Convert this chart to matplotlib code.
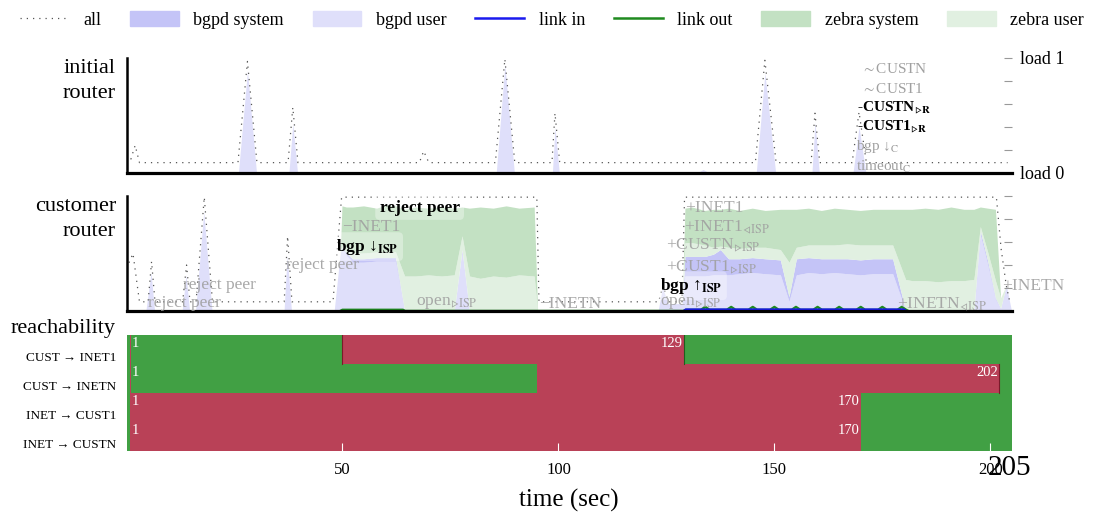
import matplotlib
matplotlib.use("Agg")
import matplotlib.pyplot as plt
from matplotlib.patches import Patch
from matplotlib.lines import Line2D

plt.rcParams.update({
    "font.family": ["Liberation Serif", "DejaVu Serif"],
    "mathtext.fontset": "stix",
    "font.size": 11,
})

C_ALL  = "#555555"
C_BSYS = "#c4c4f7"
C_BUSR = "#dfdffa"
C_LIN  = "#1a1aee"
C_LOUT = "#1f8a1f"
C_ZSYS = "#c3e1c3"
C_ZUSR = "#e1f0e1"
C_OK   = "#41a044"
C_BAD  = "#b94157"
C_NOTE = "#a0a0a0"
T_END  = 205

# ── initial router (load, 0..1) ───────────────────────────────
top_all_t = [0, 1, 2, 3, 25.8, 28, 30.2, 37.4, 38.5, 39.7, 67.8, 68.8, 70,
             85.4, 87.6, 89.9, 98.5, 99.2, 100.3, 145.6, 147.8, 150.4,
             158.5, 159.4, 160.5, 168, 169.6, 171.3, 204]
top_all = [0.16, 0.12, 0.24, 0.09, 0.09, 0.97, 0.09, 0.09, 0.57, 0.09, 0.09, 0.19, 0.09,
           0.09, 0.99, 0.09, 0.09, 0.52, 0.09, 0.09, 0.98, 0.09,
           0.09, 0.52, 0.09, 0.09, 0.53, 0.09, 0.09]
top_user_t = [0, 25.9, 28, 30.1, 37.6, 38.5, 39.6, 85.6, 87.6, 89.8, 98.6, 99.2, 100.2,
              132, 133.5, 135, 145.8, 147.8, 150.3, 158.7, 159.4, 160.4,
              168.2, 169.6, 171.2, 205]
top_user = [0, 0, 0.89, 0, 0, 0.43, 0, 0, 0.94, 0, 0, 0.40, 0,
            0, 0.03, 0, 0, 0.87, 0, 0, 0.44, 0,
            0, 0.40, 0, 0]

# ── customer router (stacked load) ────────────────────────────
mid_t = [0, 4.6, 5.8, 6.6, 13.0, 13.9, 14.7, 16.1, 18.0, 19.9, 36.6, 37.3, 38.3, 48.2,
         49.6, 50.0, 51.0, 52.5, 55.0, 58.0, 60.5, 62.4, 64.5, 67.0, 70.0, 73.0, 76.0,
         77.8, 79.5, 82.0, 85.0, 88.0, 91.0, 94.5, 95.3,
         123.2, 124.2, 125.5, 128.8,
         129.4, 131.0, 134.0, 136.0, 137.6, 139.5, 142.0, 145.0, 148.0, 151.5, 153.5,
         155.2, 158.0, 161.0, 164.0, 167.0, 170.0, 173.0, 177.5, 180.5, 182.0, 185.0,
         188.0, 191.0, 194.0, 196.3, 197.8, 199.5, 201.3, 202.5, 203.8, 205.0]
mid_bgpd_user = [0, 0, .33, 0, 0, .31, 0, 0, .86, 0, 0, .48, 0, 0,
                 .50, .55, .48, .42, .42, .43, .43, .43, 0, 0, 0, 0, 0,
                 .53, 0, 0, 0, 0, 0, 0, 0,
                 0, .20, .06, .06,
                 .30, .30, .30, .31, .31, .31, .32, .33, .32, .31, .08,
                 .31, .33, .32, .33, .32, .31, .32, .32, 0, 0, 0,
                 0, 0, 0, 0, .66, .40, .10, .02, .22, 0]
mid_bgpd_sys = [0, 0, 0, 0, 0, 0, 0, 0, 0, 0, 0, 0, 0, 0,
                0, 0, .02, .03, .03, .03, .03, .03, 0, 0, 0, 0, 0,
                0, 0, 0, 0, 0, 0, 0, 0,
                0, 0, 0, 0,
                .17, .17, .17, .18, .22, .14, .13, .13, .13, .13, .04,
                .14, .13, .13, .12, .13, .13, .13, .13, 0, 0, 0,
                0, 0, 0, 0, .03, .03, .01, 0, 0, 0]
mid_zebra_user = [0, 0, 0, 0, 0, 0, 0, 0, 0, 0, 0, 0, 0, 0,
                  0, .02, .04, .05, .05, .05, .05, .05, .30, .30, .31, .30, .31,
                  .12, .30, .28, .30, .29, .31, .30, 0,
                  0, 0, 0, 0,
                  .12, .12, .10, .06, .03, .10, .09, .09, .10, .09, .30,
                  .10, .11, .12, .12, .13, .13, .12, .12, .27, .26, .26,
                  .25, .26, .26, .27, .04, .08, .15, .09, 0, 0]
mid_zebra_sys = [0, 0, 0, 0, 0, 0, 0, 0, 0, 0, 0, 0, 0, 0,
                 0, .34, .36, .40, .41, .38, .41, .40, .58, .60, .58, .60, .58,
                 .25, .59, .62, .59, .62, .58, .60, 0,
                 0, 0, 0, 0,
                 .30, .31, .30, .33, .32, .34, .33, .34, .32, .35, .46,
                 .33, .32, .30, .32, .30, .30, .31, .31, .61, .62, .63,
                 .63, .64, .62, .61, .17, .38, .62, 0, 0, 0]
mid_all_t = [0, 1.5, 3, 5.0, 5.8, 6.6, 13.0, 13.9, 14.7, 16.1, 18.0, 19.9, 36.5, 37.3,
             38.3, 47.8, 49.8, 95.0, 95.5, 123.2, 124.2, 125.5, 128.6, 129.2, 201.4,
             202.5, 203.7, 204.5]
mid_all = [0.37, 0.5, 0.08, 0.08, 0.43, 0.08, 0.08, 0.40, 0.08, 0.08, 0.99, 0.08, 0.08, 0.65,
           0.08, 0.08, 0.99, 0.99, 0.08, 0.08, 0.22, 0.08, 0.08, 0.99, 0.99,
           0.54, 0.22, 0.08]
link_in_t = [129.0, 129.5, 180.0, 180.5]
link_in = [0, 0.012, 0.012, 0]
link_out_t = [49.5, 50, 64, 64.5, 129, 129.5,
              133, 134, 135, 139, 140, 141, 144, 145, 146, 149, 150, 151, 154, 155, 156,
              159, 160, 161, 164, 165, 166, 169, 170, 171, 174, 175, 176, 178.5, 179.5, 180.5,
              181]
link_out = [0, .01, .01, 0, 0, .01,
            .01, .035, .01, .01, .035, .01, .01, .035, .01, .01, .035, .01, .01, .035, .01,
            .01, .035, .01, .01, .035, .01, .01, .035, .01, .01, .035, .01, .01, .035, .01,
            0]

# ── reachability: (start, end, ok) segments per flow ─────────
flows = ["CUST → INET1", "CUST → INETN", "INET → CUST1", "INET → CUSTN"]
reach_segments = [
    [(0, 0.8, True), (0.8, 1.1, False), (1.1, 50, True), (50, 129, False), (129, 205, True)],
    [(0, 0.8, True), (0.8, 1.1, False), (1.1, 95, True), (95, 202, False), (202, 205, True)],
    [(0, 0.8, True), (0.8, 170, False), (170, 205, True)],
    [(0, 0.8, True), (0.8, 170, False), (170, 205, True)],
]
reach_marks = [[(1, "1"), (129, "129")], [(1, "1"), (202, "202")],
               [(1, "1"), (170, "170")], [(1, "1"), (170, "170")]]


fig = plt.figure(figsize=(11.04, 5.15), dpi=100)
L, W = 0.1146, 0.802
ax1 = fig.add_axes([L, 0.6641, W, 0.2233])
ax2 = fig.add_axes([L, 0.3961, W, 0.2233])
ax3 = fig.add_axes([L, 0.1243, W, 0.2252])


def style_load(ax, labels):
    for s in ("top", "right"):
        ax.spines[s].set_visible(False)
    ax.spines["left"].set_linewidth(1.8)
    ax.spines["bottom"].set_linewidth(2.3)
    ax.set_xlim(0, T_END)
    ax.set_ylim(0, 1)
    ax.set_xticks([])
    ax.yaxis.tick_right()
    ax.set_yticks([0, .2, .4, .6, .8, 1])
    ax.set_yticklabels(labels)
    ax.tick_params(axis="y", direction="in", length=6, color="#999999",
                   labelsize=13, pad=6)


# ── (a) initial router ────────────────────────────────────────
ax1.fill_between(top_user_t, top_user, color=C_BUSR, lw=0)
ax1.plot(top_all_t, top_all, color=C_ALL, lw=0.9, ls=(0, (1, 4)))
style_load(ax1, ["load 0", "", "", "", "", "load 1"])
ax1.text(-0.012, 0.99, "initial\nrouter", transform=ax1.transAxes,
         ha="right", va="top", fontsize=16, linespacing=1.4)

top_notes = [
    (170, 0.90, r"$\sim$CUSTN", False),
    (170, 0.73, r"$\sim$CUST1", False),
    (169.2, 0.57, r"-CUSTN$_{▹\mathbf{R}}$", True),
    (169.2, 0.40, r"-CUST1$_{▹\mathbf{R}}$", True),
    (168.8, 0.23, r"bgp ↓$_{\mathrm{C}}$", False),
    (168.8, 0.05, r"timeout$_{\mathrm{C}}$", False),
]
for x, y, s, bold in top_notes:
    ax1.text(x, y, s, fontsize=11, va="center", ha="left",
             color="black" if bold else C_NOTE,
             fontweight="bold" if bold else "normal", zorder=5)

# ── (b) customer router ───────────────────────────────────────
ax2.stackplot(mid_t, mid_bgpd_user, mid_bgpd_sys, mid_zebra_user, mid_zebra_sys,
              colors=[C_BUSR, C_BSYS, C_ZUSR, C_ZSYS], lw=0)
ax2.plot(mid_all_t, mid_all, color=C_ALL, lw=0.9, ls=(0, (1, 4)))
ax2.plot(link_out_t, link_out, color=C_LOUT, lw=1.8, clip_on=False, zorder=2.2)
ax2.plot(link_in_t, link_in, color=C_LIN, lw=1.8, clip_on=False, zorder=2.2)
style_load(ax2, ["", "", "", "", "", ""])
ax2.text(-0.012, 0.99, "customer\nrouter", transform=ax2.transAxes,
         ha="right", va="top", fontsize=16, linespacing=1.4)

box = dict(boxstyle="round,pad=0.25", fc="white", ec="none", alpha=0.35)
mid_notes = [
    (4.9, 0.07, "reject peer", False),
    (13.0, 0.23, "reject peer", False),
    (37.0, 0.40, "reject peer", False),
    (50.0, 0.73, "−INET1", False),
    (48.6, 0.56, r"bgp ↓$_{\mathbf{ISP}}$", True),
    (58.6, 0.90, "reject peer", True),
    (67.0, 0.07, r"open$_{▹\mathrm{ISP}}$", False),
    (95.6, 0.06, "−INETN", False),
    (123.6, 0.22, r"bgp ↑$_{\mathbf{ISP}}$", True),
    (123.6, 0.07, r"open$_{▹\mathrm{ISP}}$", False),
    (124.8, 0.38, r"+CUST1$_{▹\mathrm{ISP}}$", False),
    (124.8, 0.57, r"+CUSTN$_{▹\mathrm{ISP}}$", False),
    (129.0, 0.73, r"+INET1$_{◃\mathrm{ISP}}$", False),
    (129.4, 0.90, "+INET1", False),
    (178.5, 0.06, r"+INETN$_{◃\mathrm{ISP}}$", False),
    (202.8, 0.22, "+INETN", False),
]
for x, y, s, bold in mid_notes:
    ax2.text(x, y, s, fontsize=12.5, va="center", ha="left", clip_on=False,
             color="black" if bold else C_NOTE, alpha=1 if bold else 0.9,
             fontweight="bold" if bold else "normal", zorder=6,
             bbox=box if bold else None)

# ── (c) reachability ──────────────────────────────────────────
n = len(flows)
for i, segs in enumerate(reach_segments):
    y0 = n - 1 - i
    for a, b, ok in segs:
        ax3.broken_barh([(a, b - a)], (y0, 1), color=C_OK if ok else C_BAD, lw=0)
    for x, s in reach_marks[i]:
        if s == "1":
            ax3.text(x + 0.2, y0 + 0.93, s, color="white", fontsize=10.5, ha="left", va="top")
        else:
            ax3.text(x - 0.2, y0 + 0.93, s, color="white", fontsize=10.5, ha="right", va="top")
    ax3.text(-0.012, y0 + 0.22, flows[i], transform=ax3.get_yaxis_transform(),
             ha="right", va="center", fontsize=9.5)

ax3.plot([50, 50], [3, 4], color="#7a1a2a", lw=0.8)
ax3.plot([129, 129], [3, 4], color="#1f5f1f", lw=0.8)
ax3.plot([202, 202], [2, 3], color="#7a1a2a", lw=0.8)

ax3.set_xlim(0, T_END)
ax3.set_ylim(0, n)
for s in ax3.spines.values():
    s.set_visible(False)
ax3.set_yticks([])
ax3.set_xticks([50, 100, 150, 200])
ax3.tick_params(axis="x", direction="in", length=6, color="white",
                labelsize=12, pad=8)
ax3.set_xlabel("time (sec)", fontsize=18, labelpad=8)
ax3.text(-0.012, 1.015, "reachability", transform=ax3.transAxes,
         ha="right", va="baseline", fontsize=16)
ax3.annotate("205", xy=(T_END, 0), xycoords=("data", "axes fraction"),
             xytext=(-2, -12), textcoords="offset points",
             ha="center", va="center", fontsize=21)

# ── shared legend ─────────────────────────────────────────────
handles = [
    Line2D([], [], color=C_ALL, lw=0.9, ls=(0, (1, 4))),
    Patch(color=C_BSYS), Patch(color=C_BUSR),
    Line2D([], [], color=C_LIN, lw=1.8),
    Line2D([], [], color=C_LOUT, lw=1.8),
    Patch(color=C_ZSYS), Patch(color=C_ZUSR),
]
names = ["all", "bgpd system", "bgpd user", "link in", "link out",
         "zebra system", "zebra user"]
fig.legend(handles, names, loc="upper center", bbox_to_anchor=(0.5, 1.01),
           ncol=7, frameon=False, fontsize=13, handlelength=2.7,
           handleheight=0.9, columnspacing=1.6, handletextpad=0.8)

fig.savefig("out.png", dpi=100)
